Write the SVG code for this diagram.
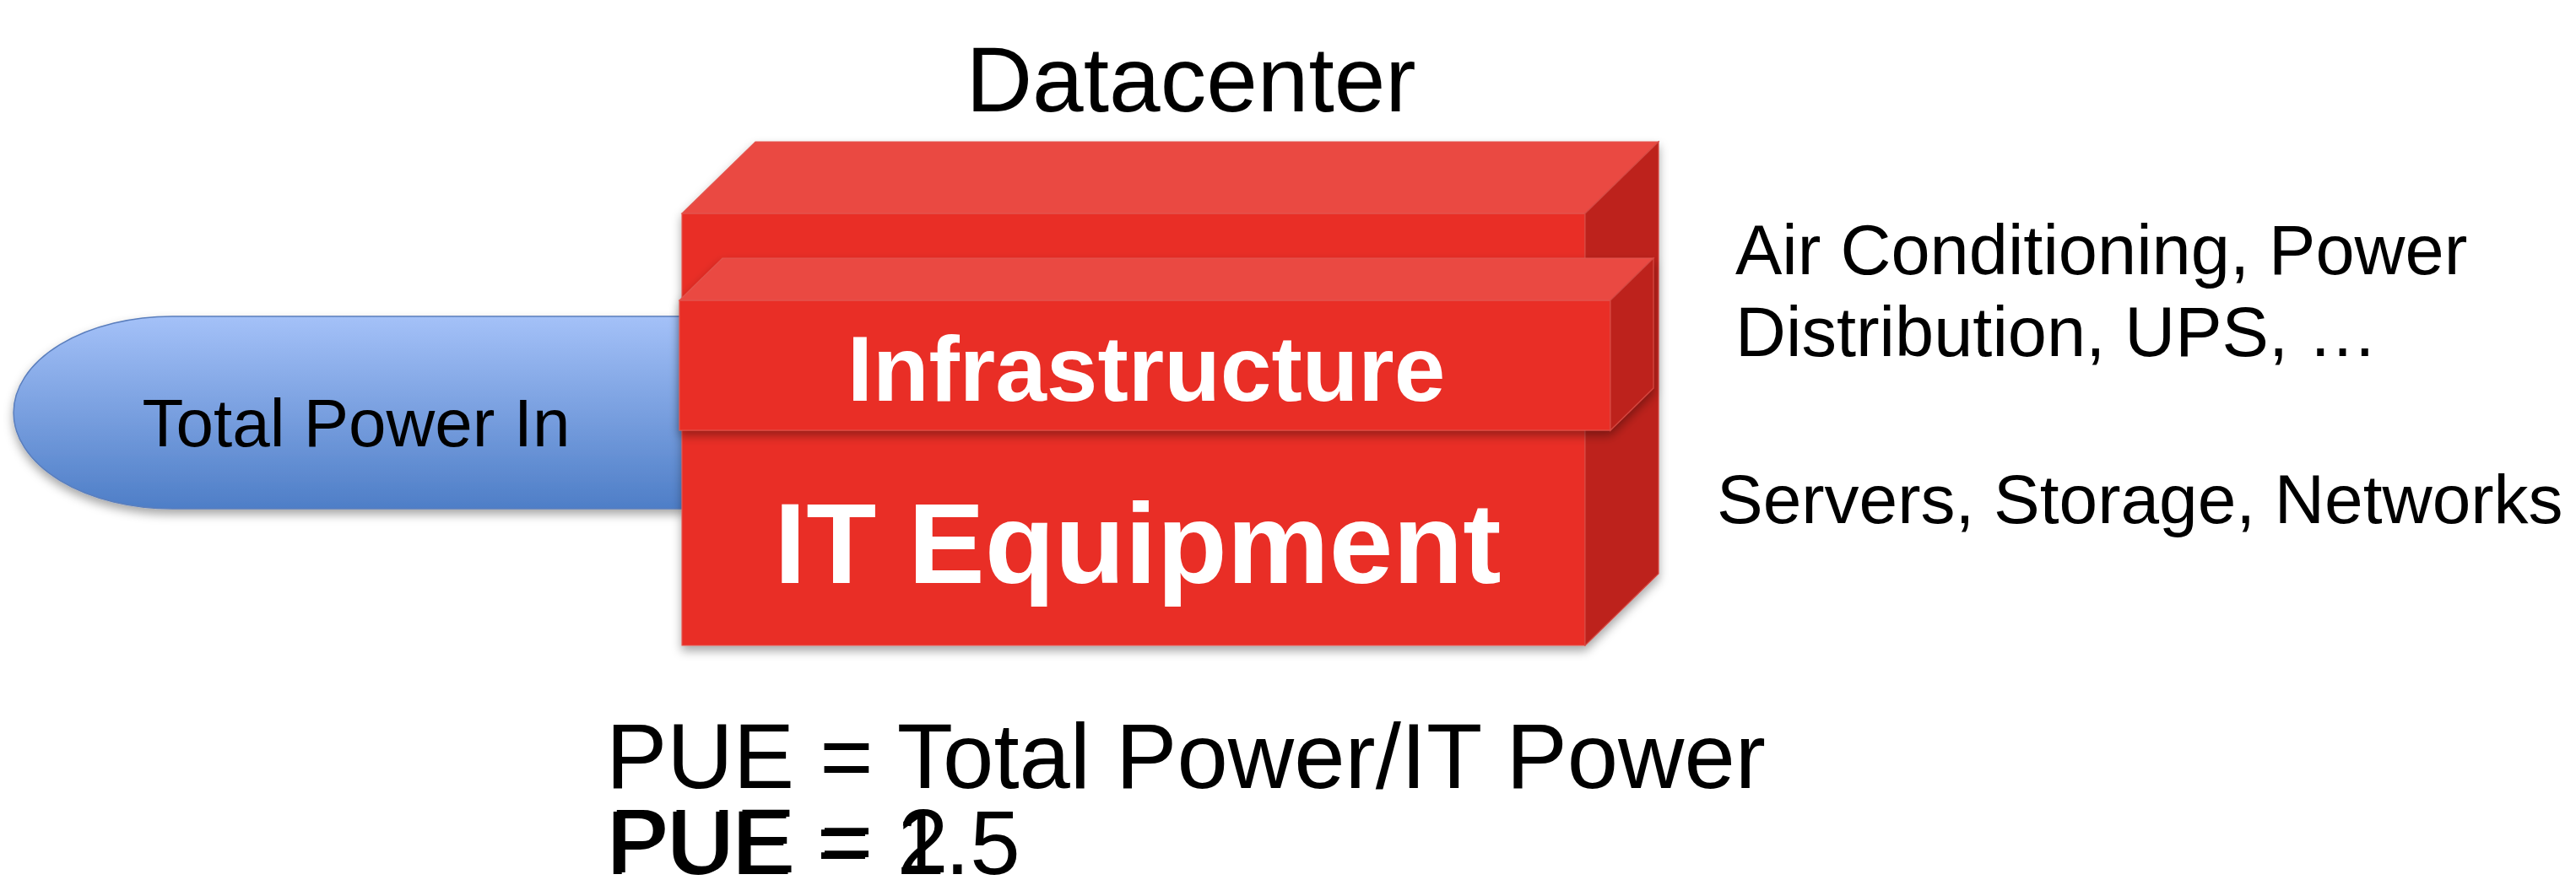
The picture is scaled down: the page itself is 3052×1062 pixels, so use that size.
<svg xmlns="http://www.w3.org/2000/svg" width="3052" height="1062" viewBox="0 0 3052 1062">
  <defs>
    <linearGradient id="pillGrad" x1="0" y1="0" x2="0" y2="1">
      <stop offset="0" stop-color="#A4C1F8"/>
      <stop offset="1" stop-color="#4E7EC7"/>
    </linearGradient>
    <filter id="shadow" x="-10%" y="-10%" width="120%" height="130%">
      <feDropShadow dx="0" dy="6" stdDeviation="6" flood-color="#000" flood-opacity="0.35"/>
    </filter>
  </defs>
  <style>
    .t { font-family: "Liberation Sans", Arial, Helvetica, sans-serif; fill: #000; }
    .tw { font-family: "Liberation Sans", Arial, Helvetica, sans-serif; font-weight: bold; fill: #fff; text-anchor: middle; }
    .front { fill: #E92F27; stroke: #E2564F; stroke-width: 1.2; }
    .top { fill: #EA4943; stroke: #E2564F; stroke-width: 1.2; }
    .side { fill: #BD241D; stroke: #D54842; stroke-width: 1.2; }
  </style>
  <rect width="3052" height="1062" fill="#fff"/>

  <g id="node-total-power-in">
    <path d="M 812 375 L 204 375 A 188 114 0 0 0 204 603 L 812 603 Z" fill="url(#pillGrad)" stroke="#5A7EBD" stroke-width="1.5" filter="url(#shadow)"/>
    <text class="t" x="422" y="529" font-size="80" text-anchor="middle">Total Power In</text>
  </g>

  <g id="node-datacenter">
    <g filter="url(#shadow)">
      <polygon class="front" points="808,253 1878,253 1878,765 808,765"/>
      <polygon class="top" points="808,253 895,168 1965,168 1878,253"/>
      <polygon class="side" points="1878,253 1965,168 1965,680 1878,765"/>
    </g>
    <text class="tw" x="1348" y="691" font-size="136">IT Equipment</text>
  </g>

  <g id="node-infrastructure">
    <g filter="url(#shadow)">
      <polygon class="front" points="805,356 1908,356 1908,510 805,510"/>
      <polygon class="top" points="805,356 856,306 1959,306 1908,356"/>
      <polygon class="side" points="1908,356 1959,306 1959,460 1908,510"/>
    </g>
    <text class="tw" x="1358" y="475" font-size="109">Infrastructure</text>
  </g>

  <g id="connectors"/>

  <g id="labels">
    <text class="t" x="1411" y="132" font-size="109" text-anchor="middle">Datacenter</text>
    <text class="t" x="2056" y="325" font-size="83">Air Conditioning, Power</text>
    <text class="t" x="2056" y="422" font-size="83">Distribution, UPS, …</text>
    <text class="t" x="2034" y="620" font-size="82">Servers, Storage, Networks</text>
    <text class="t" x="718" y="934" font-size="108.5">PUE = Total Power/IT Power</text>
    <text class="t" x="722" y="1034" font-size="107">PUE = 2</text>
    <text class="t" x="718" y="1036" font-size="107">PUE = 1.5</text>
  </g>
</svg>
